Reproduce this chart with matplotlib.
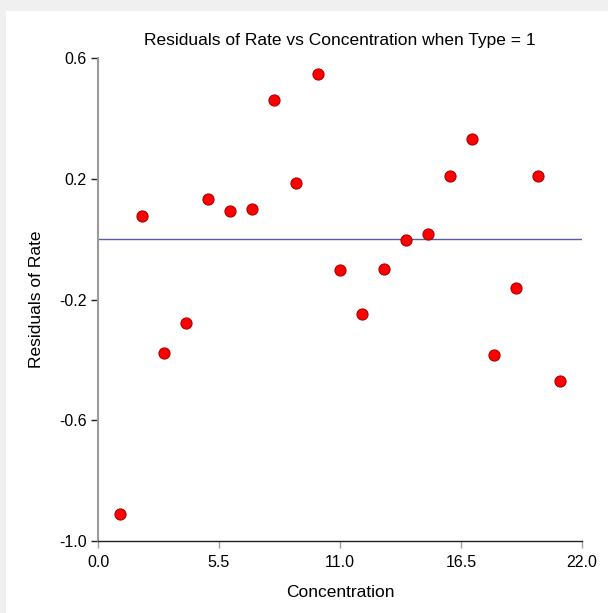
import matplotlib
matplotlib.use("Agg")
import matplotlib.pyplot as plt
from matplotlib.patches import Rectangle

plt.rcParams["font.family"] = ["Liberation Sans", "DejaVu Sans"]

concentration = [1, 2, 3, 4, 5, 6, 7, 8, 9, 10, 11,
                 12, 13, 14, 15, 16, 17, 18, 19, 20, 21]
residuals = [-0.910, 0.077, -0.377, -0.277, 0.133, 0.093, 0.100, 0.461,
             0.186, 0.547, -0.102, -0.248, -0.099, -0.003, 0.017, 0.209,
             0.332, -0.383, -0.162, 0.209, -0.470]
x_ticks = [0.0, 5.5, 11.0, 16.5, 22.0]
y_ticks = [-1.0, -0.6, -0.2, 0.2, 0.6]

fig = plt.figure(figsize=(6.08, 6.13), dpi=100)
fig.patch.set_facecolor("white")
# light grey frame along the top and left edge
fig.patches.append(Rectangle((0, 1 - 11 / 613), 1, 11 / 613, transform=fig.transFigure,
                             facecolor="#f0f0f0", edgecolor="none", zorder=-1))
fig.patches.append(Rectangle((0, 0), 6 / 608, 1, transform=fig.transFigure,
                             facecolor="#f0f0f0", edgecolor="none", zorder=-1))

ax = fig.add_axes([98 / 608, 1 - 541 / 613, 484 / 608, 483 / 613])

ax.axhline(0, color="#5a5aa8", lw=1.0, zorder=1)
ax.plot(concentration, residuals, "o", ms=8, mfc="#ff0000", mec="#b00000",
        mew=0.8, zorder=3, clip_on=False)

ax.set_xlim(0, 22)
ax.set_ylim(-1.0, 0.6)
ax.set_xticks(x_ticks)
ax.set_xticklabels([f"{v:.1f}" for v in x_ticks])
ax.set_yticks(y_ticks)
ax.set_yticklabels([f"{v:.1f}" for v in y_ticks])

for side in ("top", "right"):
    ax.spines[side].set_visible(False)
ax.spines["left"].set_color("#9a9a9a")
ax.spines["left"].set_linewidth(1.5)
ax.spines["bottom"].set_color("#202020")
ax.spines["bottom"].set_linewidth(1.0)
ax.tick_params(axis="x", direction="out", length=5, width=1, colors="#a0a0a0",
               labelcolor="black", labelsize=11.5, pad=5)
ax.tick_params(axis="y", direction="out", length=5, width=1, colors="#202020",
               labelcolor="black", labelsize=11.5, pad=3)

ax.set_title("Residuals of Rate vs Concentration when Type = 1", fontsize=12.5, pad=9)
ax.set_xlabel("Concentration", fontsize=12.5, labelpad=11)
ax.set_ylabel("Residuals of Rate", fontsize=12.5, labelpad=11)

fig.savefig("out.png", dpi=100)
